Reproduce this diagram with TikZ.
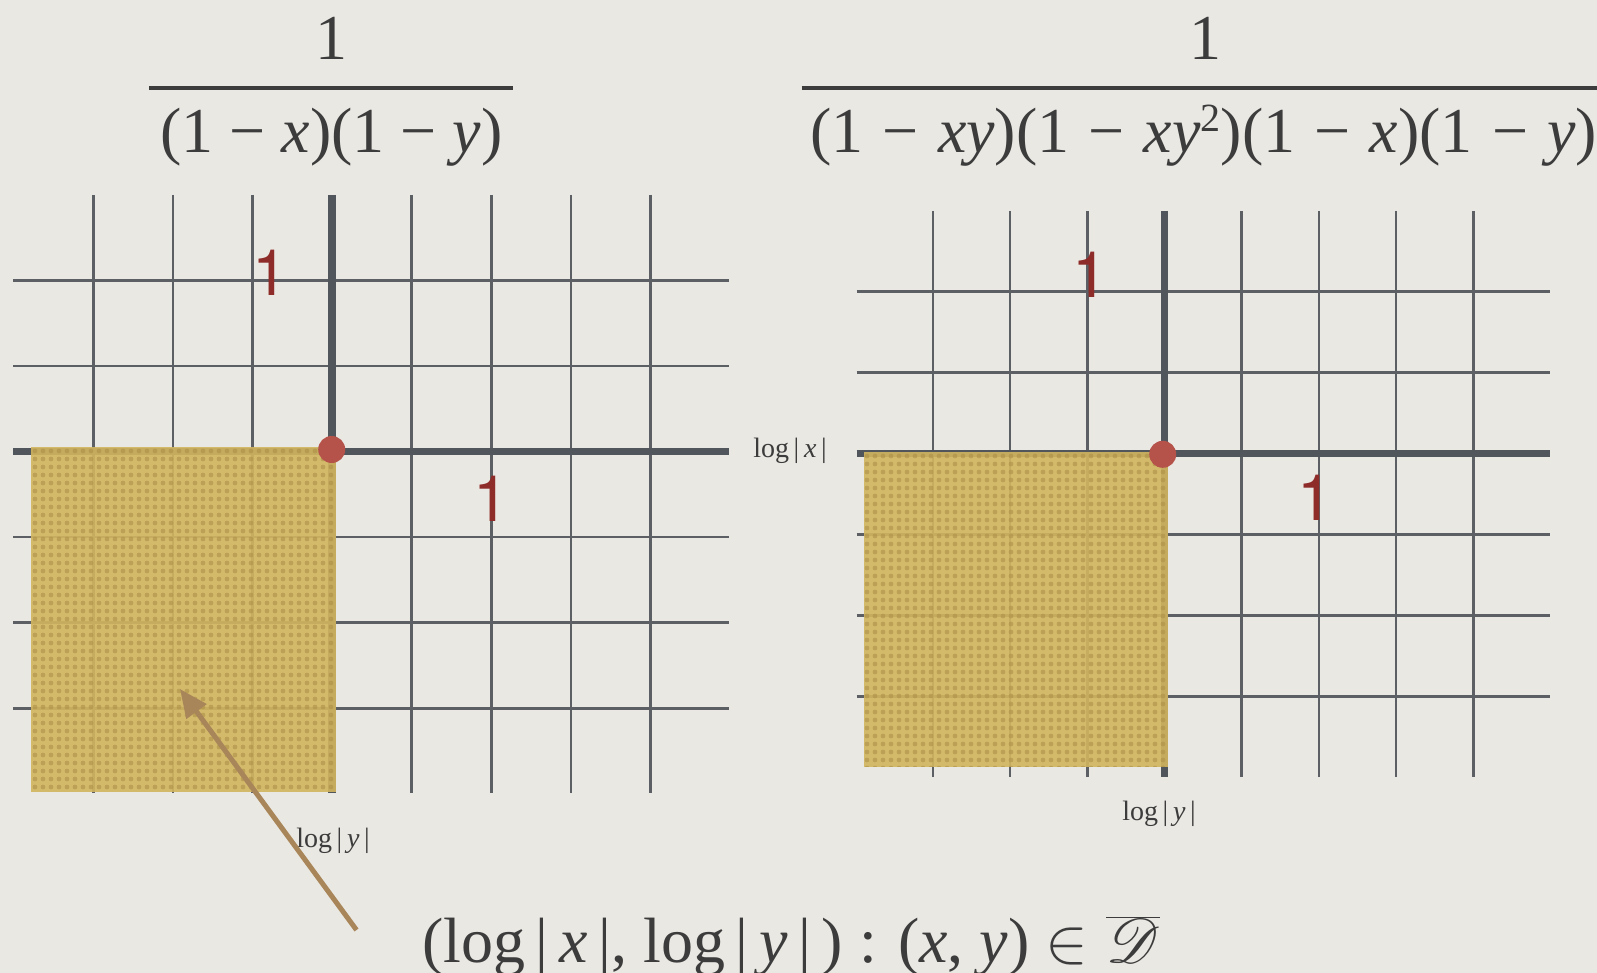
\RequirePackage{fix-cm}
\documentclass[tikz,border=0pt]{standalone}
\usepackage{fontspec}
\setmainfont{Liberation Serif}
\newfontfamily\herosfont{TeX Gyre Heros}
\usepackage{mathrsfs}
\usetikzlibrary{arrows.meta}

\definecolor{paper}{HTML}{EAE8E3}
\definecolor{gridc}{HTML}{5C5F64}
\definecolor{axisc}{HTML}{51565D}
\definecolor{yel}{HTML}{D1B55E}
\definecolor{yeldot}{HTML}{AD9047}
\definecolor{dotred}{HTML}{B5524A}
\definecolor{numred}{HTML}{8E2C29}
\definecolor{arrowc}{HTML}{A98659}
\definecolor{textc}{HTML}{3C3C3C}

\tikzset{
  gridline/.style={gridc, line width=2.6pt},
  axisline/.style={axisc, line width=7.5pt},
  shadebox/.style={fill=yel, fill opacity=0.9},
  halfdot/.style={fill=yeldot, fill opacity=0.6},
  originpt/.style={circle, fill=dotred, minimum size=27pt, inner sep=0pt},
  numlab/.style={text=numred, anchor=base, inner sep=0pt},
  axlab/.style={font=\fontsize{28}{30}\selectfont, text=textc, anchor=base, inner sep=0pt},
  bigtext/.style={font=\fontsize{64}{70}\selectfont, text=textc, anchor=base, inner sep=0pt},
  fracbar/.style={textc, line width=4pt},
}
\newcommand{\redone}{{\herosfont\fontsize{64}{64}\selectfont 1}}

\begin{document}
\begin{tikzpicture}[x=1pt, y=-1pt]
\fill[paper] (0,0) rectangle (1597,973);
\useasboundingbox (0,0) rectangle (1597,973);

% ---------- titles ----------
\node[bigtext] (ln) at (331,60) {1};
\draw[fracbar] (149,88) -- (513,88);
\node[bigtext] (ld) at (331.5,153) {(1 − \textit{x})(1 − \textit{y})};

\node[bigtext] (rn) at (1205,60) {1};
\draw[fracbar] (801.6,88) -- (1620,88);
\node[bigtext, anchor=base west] (rd) at (810,153)
  {(1\hspace{0.3em}−\hspace{0.3em}\textit{xy})(1\hspace{0.3em}−\hspace{0.3em}\textit{xy}\raisebox{0.33em}{\fontsize{40}{40}\selectfont 2})(1\hspace{0.3em}−\hspace{0.3em}\textit{x})(1\hspace{0.3em}−\hspace{0.3em}\textit{y})};

% ---------- left grid ----------
\foreach \i in {0,1,2,4,5,6,7} {
  \draw[gridline] ({93.2+79.6*\i},195) -- ({93.2+79.6*\i},793);
}
\foreach \j in {0,1,3,4,5} {
  \draw[gridline] (13,{280.3+85.6*\j}) -- (729,{280.3+85.6*\j});
}
\draw[axisline] (13,451.5) -- (729,451.5);
\draw[axisline] (332,195) -- (332,793);

% ---------- right grid ----------
\foreach \i in {0,1,2,4,5,6,7} {
  \draw[gridline] ({932.9+77.2*\i},211) -- ({932.9+77.2*\i},777);
}
\foreach \j in {0,1,3,4,5} {
  \draw[gridline] (856.6,{291.3+81*\j}) -- (1550,{291.3+81*\j});
}
\draw[axisline] (856.6,453.3) -- (1550,453.3);
\draw[axisline] (1164.5,211) -- (1164.5,777);

% ---------- shaded regions ----------
\fill[shadebox] (31,447) rectangle (336,791.5);
\begin{scope}
  \clip (31,447) rectangle (336,791.5);
  \foreach \r in {0,...,43} {
    \fill[halfdot] \foreach \c in {0,...,38} { ({35+8*\c},{451+8*\r}) circle (2.4) };
  }
\end{scope}
\fill[shadebox] (863.5,452) rectangle (1168,766.5);
\begin{scope}
  \clip (863.5,452) rectangle (1168,766.5);
  \foreach \r in {0,...,39} {
    \fill[halfdot] \foreach \c in {0,...,38} { ({867+8*\c},{456+8*\r}) circle (2.4) };
  }
\end{scope}

% ---------- origins ----------
\node[originpt] (o1) at (331.7,449.5) {};
\node[originpt] (o2) at (1162.7,454.3) {};

% ---------- red unit labels ----------
\node[numlab] (l1) at (270,296) {\redone};
\node[numlab] (l2) at (491,521.5) {\redone};
\node[numlab] (r1) at (1090,297.4) {\redone};
\node[numlab] (r2) at (1315.5,520) {\redone};

% ---------- axis labels ----------
\node[axlab] (lx) at (790,457) {log\,|\,\textit{x}\,|};
\node[axlab] (ly) at (333,847) {log\,|\,\textit{y}\,|};
\node[axlab] (ry) at (1159,820) {log\,|\,\textit{y}\,|};

% ---------- caption ----------
\node[bigtext, anchor=base west] (cap) at (422,962)
  {(log\,|\,\textit{x}\,|, log\,|\,\textit{y}\,|\,) : (\textit{x}, \textit{y}) $\in\overline{\mbox{\scalebox{2.5}{$\mathscr{D}$}}}$};

% ---------- arrow ----------
\coordinate (atail) at (356.5,930);
\coordinate (atip) at (180,689);
\draw[arrowc, line width=5pt, -{Triangle[length=28pt,width=24pt]}] (atail) -- (atip);
\end{tikzpicture}
\end{document}
